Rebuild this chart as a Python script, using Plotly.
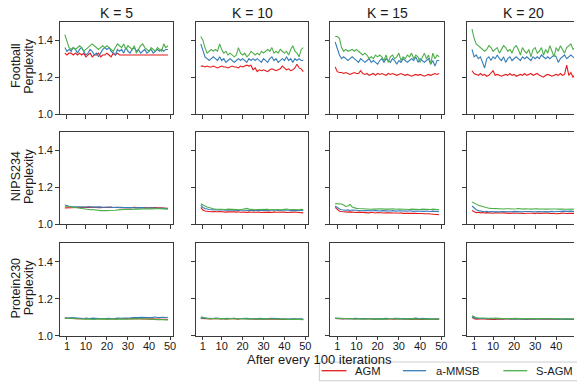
import plotly.graph_objects as go

# ---------------- data ----------------
ITER = list(range(50))
X_TICKS = [1, 10, 20, 30, 40, 50]
Y_TICKS = [1.0, 1.2, 1.4]
Y_TICK_TEXT = ["1.0", "1.2", "1.4"]
K_LABELS = ["K = 5", "K = 10", "K = 15", "K = 20"]
DATASETS = ["Football", "NIPS234", "Protein230"]
METHODS = ["AGM", "a-MMSB", "S-AGM"]
COLORS = ["#e41a1c", "#377eb8", "#4daf4a"]
X_LABEL = "After every 100 iterations"

# Football
football_agm_k5 = [1.33,1.32,1.33,1.33,1.32,1.33,1.32,1.33,1.32,1.33,
                   1.31,1.32,1.33,1.31,1.32,1.32,1.33,1.31,1.32,1.32,
                   1.33,1.32,1.31,1.33,1.32,1.33,1.32,1.32,1.32,1.32,
                   1.32,1.32,1.32,1.32,1.32,1.32,1.32,1.32,1.32,1.32,
                   1.32,1.32,1.32,1.32,1.32,1.32,1.32,1.32,1.32,1.32]
football_mmsb_k5 = [1.36,1.34,1.35,1.34,1.36,1.35,1.33,1.35,1.36,1.34,
                    1.32,1.33,1.35,1.34,1.32,1.33,1.31,1.33,1.35,1.36,
                    1.35,1.36,1.34,1.33,1.32,1.35,1.34,1.35,1.33,1.36,
                    1.34,1.33,1.35,1.36,1.34,1.35,1.33,1.34,1.35,1.33,
                    1.34,1.35,1.33,1.34,1.35,1.34,1.35,1.34,1.35,1.35]
football_sagm_k5 = [1.43,1.40,1.36,1.35,1.36,1.35,1.36,1.37,1.36,1.34,
                    1.35,1.36,1.37,1.38,1.37,1.36,1.35,1.36,1.37,1.36,
                    1.37,1.36,1.35,1.34,1.36,1.38,1.37,1.36,1.38,1.35,
                    1.37,1.36,1.35,1.37,1.33,1.35,1.37,1.38,1.36,1.35,
                    1.34,1.36,1.35,1.34,1.36,1.35,1.34,1.38,1.36,1.37]

football_agm_k10 = [1.26,1.26,1.255,1.26,1.255,1.255,1.26,1.255,1.25,1.255,
                    1.26,1.255,1.255,1.25,1.255,1.26,1.255,1.255,1.25,1.26,
                    1.255,1.26,1.265,1.26,1.265,1.24,1.25,1.23,1.24,1.235,
                    1.24,1.235,1.23,1.24,1.245,1.24,1.235,1.24,1.245,1.26,
                    1.25,1.24,1.245,1.235,1.24,1.25,1.27,1.25,1.245,1.23]
football_mmsb_k10 = [1.38,1.35,1.31,1.30,1.29,1.30,1.31,1.30,1.29,1.31,
                     1.29,1.30,1.28,1.29,1.30,1.29,1.28,1.29,1.30,1.29,
                     1.30,1.29,1.28,1.30,1.29,1.30,1.29,1.30,1.29,1.28,
                     1.30,1.29,1.28,1.30,1.31,1.29,1.30,1.28,1.29,1.30,
                     1.29,1.31,1.29,1.30,1.28,1.30,1.29,1.30,1.29,1.29]
football_sagm_k10 = [1.42,1.40,1.36,1.33,1.34,1.35,1.34,1.35,1.34,1.38,
                     1.35,1.33,1.34,1.32,1.33,1.32,1.31,1.32,1.36,1.33,
                     1.32,1.33,1.31,1.32,1.34,1.33,1.32,1.33,1.32,1.34,
                     1.33,1.34,1.35,1.34,1.36,1.33,1.34,1.33,1.35,1.34,
                     1.33,1.34,1.32,1.35,1.37,1.34,1.33,1.31,1.35,1.36]

football_agm_k15 = [1.255,1.23,1.225,1.225,1.22,1.225,1.22,1.215,1.22,1.225,
                    1.22,1.22,1.235,1.22,1.215,1.22,1.21,1.215,1.22,1.21,
                    1.22,1.215,1.22,1.215,1.21,1.22,1.215,1.22,1.215,1.21,
                    1.215,1.22,1.215,1.21,1.215,1.21,1.205,1.21,1.215,1.21,
                    1.215,1.21,1.205,1.21,1.215,1.21,1.215,1.22,1.215,1.22]
football_mmsb_k15 = [1.39,1.35,1.32,1.30,1.31,1.30,1.29,1.30,1.31,1.30,
                     1.29,1.28,1.30,1.29,1.28,1.29,1.30,1.28,1.29,1.28,
                     1.27,1.29,1.30,1.28,1.30,1.29,1.28,1.30,1.29,1.27,
                     1.29,1.28,1.30,1.29,1.28,1.29,1.30,1.29,1.31,1.28,
                     1.30,1.29,1.28,1.29,1.30,1.27,1.29,1.26,1.29,1.29]
football_sagm_k15 = [1.42,1.42,1.41,1.36,1.34,1.35,1.34,1.345,1.35,1.34,
                     1.35,1.34,1.33,1.32,1.33,1.32,1.30,1.31,1.30,1.32,
                     1.31,1.32,1.31,1.29,1.32,1.28,1.31,1.32,1.30,1.31,
                     1.33,1.29,1.31,1.30,1.32,1.31,1.33,1.30,1.32,1.31,
                     1.28,1.31,1.33,1.30,1.32,1.27,1.33,1.30,1.32,1.31]

football_agm_k20 = [1.235,1.22,1.215,1.21,1.22,1.21,1.215,1.205,1.21,1.22,
                    1.235,1.21,1.215,1.21,1.205,1.21,1.215,1.21,1.22,1.21,
                    1.215,1.205,1.21,1.215,1.21,1.22,1.21,1.215,1.22,1.21,
                    1.215,1.22,1.21,1.205,1.20,1.21,1.215,1.21,1.205,1.21,
                    1.215,1.21,1.22,1.21,1.215,1.265,1.21,1.225,1.20,1.215]
football_mmsb_k20 = [1.35,1.31,1.32,1.30,1.31,1.28,1.25,1.30,1.31,1.29,
                     1.31,1.30,1.32,1.30,1.29,1.31,1.28,1.30,1.31,1.29,
                     1.30,1.31,1.30,1.29,1.31,1.30,1.31,1.30,1.29,1.31,
                     1.30,1.31,1.30,1.32,1.31,1.30,1.31,1.30,1.31,1.32,
                     1.31,1.28,1.30,1.31,1.32,1.30,1.31,1.32,1.31,1.30]
football_sagm_k20 = [1.46,1.41,1.38,1.37,1.36,1.35,1.34,1.35,1.37,1.36,
                     1.34,1.35,1.36,1.33,1.35,1.37,1.36,1.34,1.35,1.33,
                     1.36,1.37,1.35,1.32,1.36,1.34,1.33,1.35,1.31,1.35,
                     1.36,1.33,1.34,1.36,1.32,1.35,1.33,1.37,1.34,1.31,
                     1.36,1.34,1.37,1.35,1.33,1.36,1.37,1.38,1.35,1.36]

# NIPS234
nips_agm_k5 = [1.09,1.09,1.088,1.09,1.092,1.09,1.092,1.094,1.092,1.093,
               1.092,1.094,1.093,1.092,1.094,1.093,1.092,1.091,1.092,1.093,
               1.092,1.094,1.093,1.092,1.094,1.093,1.091,1.092,1.094,1.093,
               1.092,1.09,1.092,1.093,1.091,1.092,1.09,1.091,1.092,1.09,
               1.091,1.092,1.09,1.091,1.09,1.092,1.09,1.089,1.088,1.087]
nips_mmsb_k5 = [1.105,1.10,1.098,1.096,1.097,1.095,1.096,1.094,1.095,1.096,
                1.097,1.095,1.096,1.094,1.095,1.093,1.094,1.095,1.093,1.094,
                1.092,1.093,1.094,1.092,1.093,1.091,1.092,1.093,1.091,1.092,
                1.09,1.091,1.092,1.09,1.091,1.089,1.09,1.091,1.089,1.09,
                1.088,1.089,1.09,1.088,1.089,1.087,1.088,1.087,1.086,1.085]
nips_sagm_k5 = [1.10,1.098,1.096,1.095,1.094,1.093,1.092,1.09,1.088,1.085,
                1.083,1.082,1.08,1.081,1.079,1.078,1.076,1.075,1.076,1.074,
                1.075,1.076,1.075,1.074,1.077,1.079,1.08,1.082,1.081,1.083,
                1.082,1.081,1.083,1.084,1.083,1.082,1.084,1.083,1.085,1.084,
                1.083,1.085,1.084,1.086,1.085,1.084,1.086,1.085,1.084,1.083]

nips_agm_k10 = [1.092,1.078,1.073,1.071,1.07,1.069,1.07,1.068,1.069,1.07,
                1.068,1.069,1.067,1.068,1.069,1.066,1.068,1.067,1.069,1.066,
                1.068,1.067,1.065,1.068,1.066,1.067,1.068,1.066,1.067,1.065,
                1.066,1.068,1.066,1.067,1.065,1.068,1.066,1.067,1.068,1.066,
                1.067,1.065,1.066,1.068,1.066,1.067,1.066,1.065,1.064,1.063]
nips_mmsb_k10 = [1.105,1.092,1.086,1.082,1.081,1.08,1.079,1.08,1.078,1.079,
                 1.08,1.078,1.077,1.079,1.078,1.076,1.077,1.078,1.076,1.077,
                 1.079,1.077,1.076,1.078,1.077,1.075,1.076,1.078,1.076,1.077,
                 1.075,1.076,1.078,1.077,1.076,1.078,1.077,1.075,1.076,1.077,
                 1.078,1.076,1.077,1.075,1.076,1.077,1.076,1.075,1.076,1.076]
nips_sagm_k10 = [1.112,1.108,1.10,1.094,1.09,1.087,1.085,1.084,1.083,1.082,
                 1.083,1.082,1.081,1.083,1.082,1.081,1.08,1.082,1.081,1.08,
                 1.082,1.084,1.087,1.083,1.081,1.082,1.08,1.081,1.082,1.08,
                 1.081,1.083,1.082,1.08,1.081,1.083,1.082,1.081,1.08,1.082,
                 1.081,1.083,1.082,1.081,1.08,1.082,1.081,1.08,1.082,1.081]

nips_agm_k15 = [1.092,1.08,1.072,1.07,1.068,1.069,1.067,1.068,1.066,1.067,
                1.065,1.067,1.066,1.064,1.066,1.065,1.063,1.066,1.064,1.062,
                1.065,1.063,1.064,1.062,1.063,1.061,1.063,1.062,1.06,1.062,
                1.061,1.063,1.06,1.061,1.059,1.061,1.06,1.058,1.06,1.059,
                1.057,1.059,1.058,1.056,1.058,1.057,1.055,1.057,1.054,1.053]
nips_mmsb_k15 = [1.10,1.09,1.084,1.08,1.078,1.077,1.079,1.076,1.078,1.077,
                 1.075,1.077,1.076,1.074,1.076,1.075,1.073,1.075,1.074,1.076,
                 1.074,1.073,1.075,1.074,1.072,1.074,1.073,1.075,1.073,1.072,
                 1.074,1.073,1.071,1.073,1.072,1.074,1.072,1.071,1.073,1.072,
                 1.07,1.072,1.071,1.073,1.071,1.07,1.072,1.071,1.07,1.069]
nips_sagm_k15 = [1.113,1.113,1.112,1.111,1.105,1.098,1.10,1.108,1.095,1.09,
                 1.087,1.086,1.085,1.084,1.085,1.083,1.084,1.082,1.083,1.084,
                 1.082,1.083,1.085,1.083,1.082,1.084,1.083,1.085,1.083,1.082,
                 1.084,1.083,1.082,1.084,1.083,1.081,1.083,1.082,1.084,1.082,
                 1.081,1.083,1.082,1.08,1.082,1.081,1.083,1.082,1.08,1.079]

nips_agm_k20 = [1.075,1.068,1.064,1.066,1.063,1.065,1.062,1.064,1.063,1.058,
                1.061,1.063,1.062,1.06,1.062,1.063,1.061,1.058,1.06,1.062,
                1.061,1.063,1.06,1.062,1.061,1.059,1.061,1.062,1.06,1.061,
                1.059,1.062,1.06,1.061,1.058,1.06,1.062,1.06,1.061,1.059,
                1.058,1.061,1.06,1.062,1.06,1.059,1.061,1.06,1.062,1.06]
nips_mmsb_k20 = [1.10,1.088,1.08,1.075,1.072,1.07,1.069,1.071,1.068,1.07,
                 1.069,1.071,1.07,1.068,1.07,1.069,1.071,1.07,1.068,1.069,
                 1.071,1.07,1.069,1.07,1.068,1.07,1.071,1.069,1.07,1.068,
                 1.07,1.072,1.07,1.069,1.071,1.07,1.068,1.07,1.071,1.069,
                 1.07,1.072,1.071,1.07,1.072,1.071,1.073,1.072,1.071,1.072]
nips_sagm_k20 = [1.122,1.118,1.11,1.104,1.10,1.096,1.093,1.09,1.088,1.087,
                 1.086,1.085,1.084,1.085,1.083,1.084,1.085,1.087,1.085,1.084,
                 1.083,1.085,1.086,1.084,1.083,1.085,1.086,1.084,1.083,1.085,
                 1.087,1.085,1.084,1.083,1.085,1.084,1.083,1.084,1.085,1.083,
                 1.084,1.083,1.085,1.084,1.082,1.083,1.084,1.082,1.083,1.082]

# Protein230
protein_agm_k5 = [1.095,1.094,1.096,1.095,1.093,1.094,1.092,1.093,1.091,1.092,
                  1.094,1.092,1.093,1.091,1.092,1.09,1.092,1.093,1.091,1.092,
                  1.09,1.091,1.093,1.092,1.09,1.092,1.091,1.093,1.092,1.094,
                  1.093,1.091,1.092,1.094,1.092,1.093,1.091,1.092,1.094,1.092,
                  1.09,1.092,1.091,1.09,1.092,1.09,1.089,1.09,1.088,1.089]
protein_mmsb_k5 = [1.095,1.094,1.096,1.098,1.097,1.095,1.096,1.094,1.095,1.093,
                   1.094,1.092,1.093,1.095,1.094,1.092,1.093,1.094,1.092,1.093,
                   1.095,1.094,1.093,1.092,1.094,1.095,1.093,1.094,1.096,1.095,
                   1.097,1.096,1.098,1.097,1.099,1.098,1.10,1.099,1.097,1.10,
                   1.099,1.098,1.10,1.101,1.099,1.10,1.102,1.10,1.099,1.10]
protein_sagm_k5 = [1.093,1.094,1.095,1.094,1.093,1.092,1.094,1.093,1.091,1.092,
                   1.09,1.091,1.089,1.09,1.088,1.09,1.091,1.089,1.09,1.092,
                   1.091,1.09,1.092,1.091,1.09,1.092,1.091,1.09,1.089,1.091,
                   1.09,1.092,1.091,1.09,1.092,1.091,1.093,1.092,1.09,1.091,
                   1.089,1.09,1.088,1.089,1.087,1.088,1.086,1.087,1.086,1.085]

protein_agm_k10 = [1.094,1.093,1.092,1.094,1.093,1.091,1.093,1.092,1.09,1.092,
                   1.091,1.093,1.089,1.091,1.09,1.092,1.094,1.092,1.09,1.093,
                   1.092,1.094,1.093,1.09,1.089,1.088,1.09,1.089,1.091,1.09,
                   1.088,1.089,1.091,1.09,1.092,1.091,1.089,1.09,1.088,1.09,
                   1.089,1.091,1.09,1.088,1.09,1.089,1.087,1.088,1.089,1.088]
protein_mmsb_k10 = [1.095,1.094,1.095,1.093,1.094,1.092,1.093,1.095,1.093,1.094,
                    1.092,1.093,1.095,1.094,1.093,1.095,1.094,1.092,1.093,1.094,
                    1.093,1.095,1.094,1.093,1.092,1.094,1.093,1.092,1.094,1.093,
                    1.091,1.093,1.092,1.094,1.093,1.091,1.092,1.093,1.092,1.091,
                    1.093,1.092,1.09,1.092,1.093,1.091,1.09,1.092,1.091,1.09]
protein_sagm_k10 = [1.102,1.099,1.095,1.094,1.092,1.093,1.091,1.092,1.094,1.093,
                    1.091,1.092,1.09,1.093,1.092,1.094,1.092,1.091,1.093,1.092,
                    1.09,1.092,1.091,1.09,1.092,1.091,1.093,1.092,1.09,1.091,
                    1.089,1.09,1.092,1.091,1.09,1.088,1.09,1.089,1.091,1.09,
                    1.088,1.089,1.087,1.089,1.088,1.09,1.089,1.087,1.088,1.087]

protein_agm_k15 = [1.093,1.092,1.094,1.092,1.091,1.093,1.092,1.09,1.092,1.091,
                   1.093,1.092,1.09,1.091,1.093,1.092,1.09,1.089,1.091,1.09,
                   1.092,1.091,1.089,1.091,1.09,1.092,1.091,1.089,1.09,1.092,
                   1.091,1.09,1.089,1.091,1.09,1.088,1.09,1.089,1.091,1.09,
                   1.088,1.09,1.089,1.087,1.089,1.088,1.09,1.088,1.087,1.088]
protein_mmsb_k15 = [1.094,1.093,1.092,1.094,1.093,1.092,1.093,1.091,1.092,1.094,
                    1.093,1.091,1.092,1.093,1.091,1.092,1.094,1.092,1.091,1.093,
                    1.092,1.091,1.093,1.092,1.094,1.093,1.091,1.092,1.094,1.093,
                    1.092,1.091,1.093,1.092,1.091,1.093,1.092,1.094,1.095,1.093,
                    1.092,1.094,1.093,1.091,1.093,1.092,1.09,1.092,1.091,1.092]
protein_sagm_k15 = [1.095,1.094,1.093,1.092,1.094,1.093,1.091,1.092,1.093,1.091,
                    1.09,1.092,1.091,1.093,1.092,1.09,1.091,1.093,1.092,1.09,
                    1.091,1.09,1.092,1.091,1.09,1.092,1.091,1.093,1.092,1.09,
                    1.091,1.092,1.09,1.089,1.091,1.09,1.092,1.091,1.089,1.09,
                    1.092,1.09,1.089,1.091,1.09,1.088,1.09,1.089,1.091,1.09]

protein_agm_k20 = [1.10,1.092,1.09,1.091,1.089,1.09,1.092,1.09,1.089,1.091,
                   1.09,1.088,1.09,1.089,1.091,1.09,1.092,1.091,1.089,1.09,
                   1.092,1.091,1.09,1.089,1.091,1.09,1.088,1.09,1.089,1.091,
                   1.09,1.092,1.09,1.089,1.091,1.09,1.088,1.09,1.091,1.089,
                   1.09,1.088,1.089,1.091,1.09,1.088,1.09,1.089,1.088,1.089]
protein_mmsb_k20 = [1.102,1.096,1.094,1.093,1.092,1.094,1.093,1.091,1.092,1.094,
                    1.093,1.092,1.09,1.092,1.091,1.093,1.092,1.094,1.093,1.091,
                    1.092,1.09,1.092,1.091,1.093,1.092,1.09,1.091,1.093,1.092,
                    1.09,1.091,1.092,1.09,1.092,1.094,1.092,1.091,1.093,1.092,
                    1.09,1.092,1.091,1.09,1.092,1.091,1.09,1.091,1.092,1.09]
protein_sagm_k20 = [1.108,1.101,1.098,1.097,1.096,1.094,1.095,1.093,1.094,1.092,
                    1.093,1.095,1.094,1.092,1.093,1.094,1.092,1.093,1.091,1.092,
                    1.094,1.093,1.092,1.094,1.093,1.091,1.093,1.092,1.094,1.093,
                    1.092,1.091,1.093,1.092,1.094,1.093,1.091,1.092,1.093,1.092,
                    1.091,1.093,1.092,1.09,1.092,1.091,1.093,1.092,1.09,1.091]

PANELS = [
    [[football_agm_k5, football_mmsb_k5, football_sagm_k5],
     [football_agm_k10, football_mmsb_k10, football_sagm_k10],
     [football_agm_k15, football_mmsb_k15, football_sagm_k15],
     [football_agm_k20, football_mmsb_k20, football_sagm_k20]],
    [[nips_agm_k5, nips_mmsb_k5, nips_sagm_k5],
     [nips_agm_k10, nips_mmsb_k10, nips_sagm_k10],
     [nips_agm_k15, nips_mmsb_k15, nips_sagm_k15],
     [nips_agm_k20, nips_mmsb_k20, nips_sagm_k20]],
    [[protein_agm_k5, protein_mmsb_k5, protein_sagm_k5],
     [protein_agm_k10, protein_mmsb_k10, protein_sagm_k10],
     [protein_agm_k15, protein_mmsb_k15, protein_sagm_k15],
     [protein_agm_k20, protein_mmsb_k20, protein_sagm_k20]],
]

# ---------------- layout ----------------
W, H = 577, 390
FONT = "Liberation Sans, Arial, sans-serif"
TXT = "#1a1a1a"
FRAME = "#3a3a3a"
COL_PX = [(60, 174), (196.7, 310), (331.7, 446.7), (469.3, 583.3)]
ROW_PX = [(22, 116), (134, 228), (247, 341)]
X_LO, X_HI = -2.45, 51.45

fig = go.Figure()
layout = {}
for r in range(3):
    for c in range(4):
        idx = r * 4 + c + 1
        sfx = "" if idx == 1 else str(idx)
        x0, x1 = COL_PX[c]
        y0, y1 = ROW_PX[r]
        if x1 > W:
            xr = [X_LO, X_LO + (X_HI - X_LO) * (W - x0) / (x1 - x0)]
            xd = [x0 / W, 1.0]
        else:
            xr = [X_LO, X_HI]
            xd = [x0 / W, x1 / W]
        layout["xaxis" + sfx] = dict(
            domain=xd, range=xr, anchor="y" + sfx,
            tickmode="array", tickvals=X_TICKS,
            ticktext=[str(t) for t in X_TICKS],
            showticklabels=(r == 2),
            ticks="outside", ticklen=3.5, tickwidth=1, tickcolor=FRAME,
            ticklabelstandoff=-3,
            showline=True, linecolor=FRAME, linewidth=1, mirror=True,
            showgrid=False, zeroline=False,
            tickfont=dict(family=FONT, size=11, color=TXT),
        )
        layout["yaxis" + sfx] = dict(
            domain=[(H - y1) / H, (H - y0) / H], range=[1.0, 1.5],
            anchor="x" + sfx,
            tickmode="array", tickvals=Y_TICKS, ticktext=Y_TICK_TEXT,
            showticklabels=(c == 0),
            ticks="outside", ticklen=3.5, tickwidth=1, tickcolor=FRAME,
            showline=True, linecolor=FRAME, linewidth=1,
            mirror=(x1 <= W),
            showgrid=False, zeroline=False,
            tickfont=dict(family=FONT, size=11, color=TXT),
        )
        for m, series in enumerate(PANELS[r][c]):
            fig.add_trace(go.Scatter(
                x=ITER[:len(series)], y=series, mode="lines",
                name=METHODS[m], showlegend=False,
                line=dict(color=COLORS[m], width=1.1),
                xaxis="x" + sfx, yaxis="y" + sfx,
            ))

annotations = []
for c, lab in enumerate(K_LABELS):
    x0, x1 = COL_PX[c]
    annotations.append(dict(
        text=lab, x=(x0 + x1) / 2 / W, y=(H - 13) / H,
        xref="paper", yref="paper", xanchor="center", yanchor="middle",
        showarrow=False, font=dict(family=FONT, size=14, color=TXT)))
for r, ds in enumerate(DATASETS):
    y0, y1 = ROW_PX[r]
    yc = (y0 + y1) / 2 - 2
    annotations.append(dict(
        text=ds, x=16 / W, y=(H - yc) / H, textangle=-90,
        xref="paper", yref="paper", xanchor="center", yanchor="middle",
        showarrow=False, font=dict(family=FONT, size=12.5, color=TXT)))
    annotations.append(dict(
        text="Perplexity", x=29 / W, y=(H - yc) / H, textangle=-90,
        xref="paper", yref="paper", xanchor="center", yanchor="middle",
        showarrow=False, font=dict(family=FONT, size=12.5, color=TXT)))
annotations.append(dict(
    text=X_LABEL, x=321 / W, y=(H - 365) / H,
    xref="paper", yref="paper", xanchor="center", yanchor="middle",
    showarrow=False, font=dict(family=FONT, size=13, color=TXT)))

# legend (drawn manually, the original is clipped at the right edge)
shapes = []
shapes.append(dict(type="rect", xref="paper", yref="paper",
                   x0=321 / W, x1=620 / W, y0=(H - 386.7) / H, y1=(H - 367.7) / H,
                   line=dict(color="#cccccc", width=1), fillcolor="rgba(255,255,255,0.8)"))
LEG_LINE_X = [(323.3, 348.3), (405, 428.3), (506, 530)]
LEG_TEXT_X = [355.7, 437.3, 537.3]
for m in range(3):
    a, b = LEG_LINE_X[m]
    shapes.append(dict(type="line", xref="paper", yref="paper",
                       x0=a / W, x1=b / W, y0=(H - 376.5) / H, y1=(H - 376.5) / H,
                       line=dict(color=COLORS[m], width=1.3)))
    annotations.append(dict(
        text=METHODS[m], x=LEG_TEXT_X[m] / W, y=(H - 377) / H,
        xref="paper", yref="paper", xanchor="left", yanchor="middle",
        showarrow=False, borderpad=0,
        font=dict(family=FONT, size=11.2, color=TXT)))

fig.update_layout(
    width=W, height=H, autosize=False,
    margin=dict(l=0, r=0, t=0, b=0),
    paper_bgcolor="white", plot_bgcolor="white",
    showlegend=False, hovermode=False,
    annotations=annotations, shapes=shapes,
    **layout,
)

fig.write_html(
    "out.html",
    config={"displayModeBar": False, "staticPlot": True},
    post_script="document.body.style.margin='0';document.body.style.overflow='hidden';",
)
